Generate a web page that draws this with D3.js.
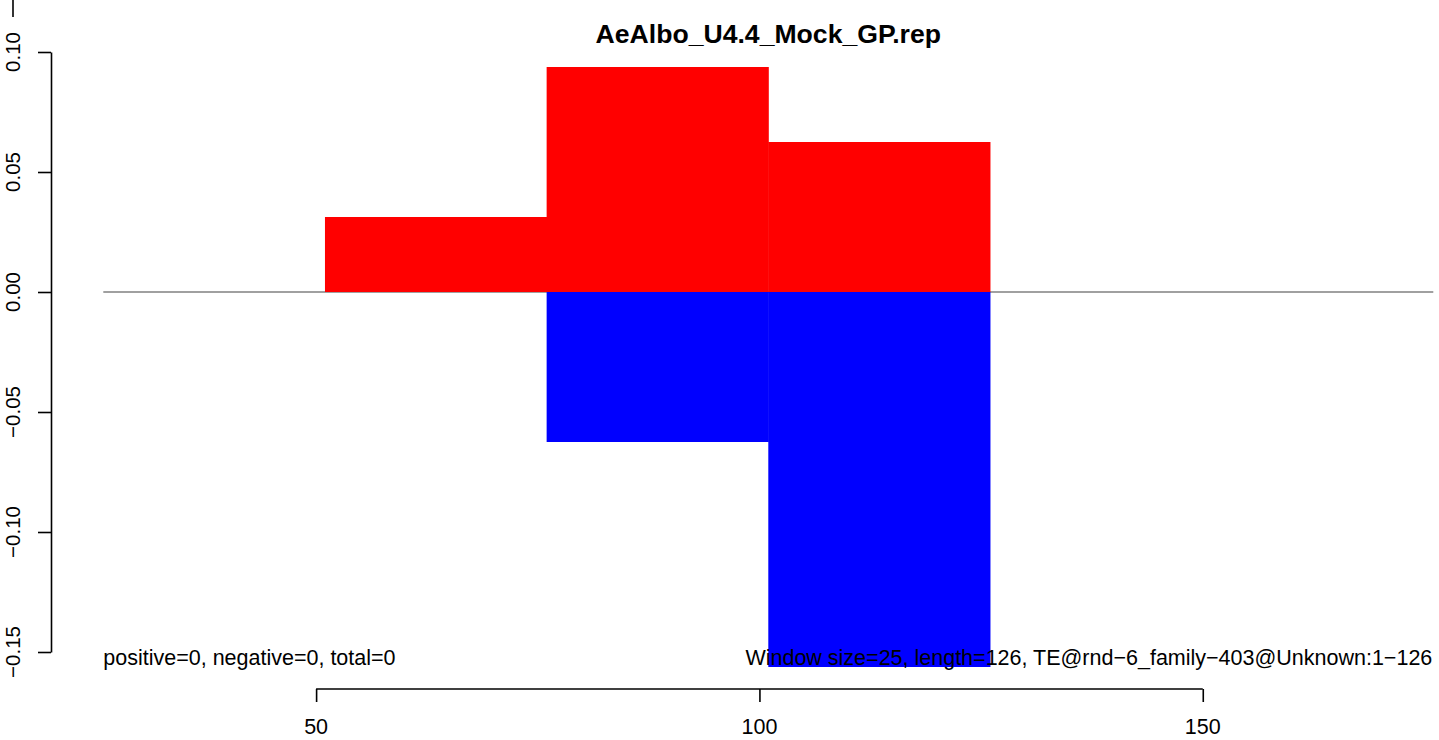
<html>
<head>
    <meta charset="utf-8">
    <script src="https://d3js.org/d3.v7.min.js"></script>
</head>
<body style="margin:0">
    <svg id="rep_plot" width="1439" height="740"></svg>
</body>
<style>
    text{font-family: "Liberation Sans", Arial, sans-serif}
</style>
<script>

    // windows along the TE (start, end) and their scores
    const winStart = [51, 76, 101]
    const winEnd = [76, 101, 126]
    const posVals = [0.03125, 0.09375, 0.0625]
    const negVals = [0, -0.0625, -0.15625]

    const yTicks = [-0.15, -0.10, -0.05, 0.00, 0.05, 0.10]
    const xTicks = [50, 100, 150]

    const titleText = 'AeAlbo_U4.4_Mock_GP.rep'
    const leftNote = 'positive=0, negative=0, total=0'
    const rightNote = 'Window size=25, length=126, TE@rnd\u22126_family\u2212403@Unknown:1\u2212126'

    let svg = d3.select('svg#rep_plot')

    const plotLeft = 103.3, plotRight = 1433.3
    const xDomain = [26, 176]
    const yDomain = [-0.15, 0.10]

    let x = d3.scaleLinear().domain(xDomain).range([plotLeft, plotRight])
    let y = d3.scaleLinear().domain(yDomain).range([652, 52])

    let bars = []
    for (let i = 0; i < winStart.length; i++) {
        bars.push({s: winStart[i], e: winEnd[i], pos: posVals[i], neg: negVals[i]})
    }

    // zero line
    svg.append('line')
       .attr('x1', x(xDomain[0])).attr('x2', x(xDomain[1]))
       .attr('y1', y(0)).attr('y2', y(0))
       .attr('stroke', '#808080')
       .attr('stroke-width', 1.3)

    svg.selectAll('rect.pos')
       .data(bars)
       .join('rect')
       .attr('class', 'pos')
       .attr('x', d => x(d.s))
       .attr('width', d => x(d.e) - x(d.s) + 0.5)
       .attr('y', d => y(d.pos))
       .attr('height', d => y(0) - y(d.pos))
       .attr('fill', '#ff0000')

    svg.selectAll('rect.neg')
       .data(bars.filter(d => d.neg < 0))
       .join('rect')
       .attr('class', 'neg')
       .attr('x', d => x(d.s))
       .attr('width', d => x(d.e) - x(d.s) + 0.5)
       .attr('y', y(0))
       .attr('height', d => y(d.neg) - y(0))
       .attr('fill', '#0000ff')

    // y axis
    let yaxis = svg.append('g')
       .attr('transform', 'translate(51,0)')
       .call(d3.axisLeft(y).tickValues(yTicks).tickSize(13).tickSizeOuter(0).tickFormat(''))
    yaxis.selectAll('path, line').attr('stroke', '#000').attr('stroke-width', 1.6)

    svg.selectAll('text.ylab')
       .data(yTicks)
       .join('text')
       .attr('class', 'ylab')
       .attr('transform', d => `translate(20,${y(d)}) rotate(-90)`)
       .attr('text-anchor', 'middle')
       .attr('font-size', '20.5px')
       .text(d => d3.format('.2f')(d))

    // stray mark at the top-left corner
    svg.append('line')
       .attr('x1', 13).attr('x2', 13).attr('y1', 0).attr('y2', 17)
       .attr('stroke', '#000').attr('stroke-width', 1.6)

    // x axis
    let xaxis = svg.append('g')
       .attr('transform', 'translate(0,689)')
       .call(d3.axisBottom(x).tickValues(xTicks).tickSize(13).tickSizeOuter(0).tickFormat(''))
    xaxis.select('path.domain')
       .attr('d', `M${x(xTicks[0])},0H${x(xTicks[xTicks.length - 1])}`)
    xaxis.selectAll('path, line').attr('stroke', '#000').attr('stroke-width', 1.6)

    svg.selectAll('text.xlab')
       .data(xTicks)
       .join('text')
       .attr('class', 'xlab')
       .attr('x', d => x(d))
       .attr('y', 734)
       .attr('text-anchor', 'middle')
       .attr('font-size', '21.5px')
       .text(d => d)

    // notes and title
    svg.append('text')
       .attr('x', plotLeft).attr('y', 665)
       .attr('font-size', '21.5px')
       .text(leftNote)

    svg.append('text')
       .attr('x', plotRight - 1).attr('y', 665)
       .attr('text-anchor', 'end')
       .attr('font-size', '21.5px')
       .text(rightNote)

    svg.append('text')
       .attr('x', (plotLeft + plotRight) / 2).attr('y', 43)
       .attr('text-anchor', 'middle')
       .attr('font-size', '26.6px')
       .attr('font-weight', 'bold')
       .text(titleText)

</script>
</html>
